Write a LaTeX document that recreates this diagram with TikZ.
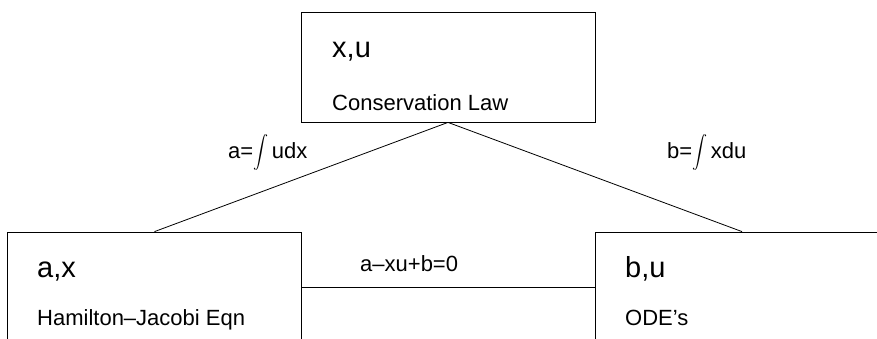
\documentclass[tikz,border=0pt]{standalone}
\usepackage{fontspec}
\setmainfont{Liberation Sans}
% tall integral sign sitting partly below the baseline
\newcommand{\intsign}{\raisebox{-12pt}{\resizebox*{15pt}{36pt}{\raisebox{\depth}{$\displaystyle\int$}}}}
\begin{document}
\begin{tikzpicture}[x=1pt,y=-1pt,
  panel/.style={draw, line width=0.8pt, minimum width=294pt, minimum height=110pt, inner sep=0pt},
  link/.style={line width=0.8pt},
  bigtxt/.style={anchor=base west, inner sep=0pt, font=\fontsize{29}{29}\selectfont},
  smalltxt/.style={anchor=base west, inner sep=0pt, font=\fontsize{22}{22}\selectfont},
  lbl/.style={anchor=base west, inner sep=0pt, font=\fontsize{22}{22}\selectfont}]
\useasboundingbox (0,0) rectangle (877,338);
\clip (0,0) rectangle (877,338);
% three panels
\node[panel] (top)   at (448,67)  {};
\node[panel] (left)  at (154.5,287) {};
\node[panel] (right) at (742,287) {};
% connectors
\draw[link] (top.south) -- (left.north);
\draw[link] (top.south) -- (right.north);
\draw[link] (left.east) -- (right.west);
% panel texts
\node[bigtxt]   (tvar)  at (332,57)  {x,u};
\node[smalltxt] (tname) at (332,110) {Conservation Law};
\node[bigtxt]   (lvar)  at (37,277)  {a,x};
\node[smalltxt] (lname) at (37,325)  {Hamilton--Jacobi Eqn};
\node[bigtxt]   (rvar)  at (625,277) {b,u};
\node[smalltxt] (rname) at (625,325) {ODE's};
% connector labels
\node[lbl] (la) at (228,158) {a=\intsign\,udx};
\node[lbl] (lb) at (667,158) {b=\intsign\,xdu};
\node[lbl] (lc) at (360,271) {a--xu+b=0};
\end{tikzpicture}
\end{document}
